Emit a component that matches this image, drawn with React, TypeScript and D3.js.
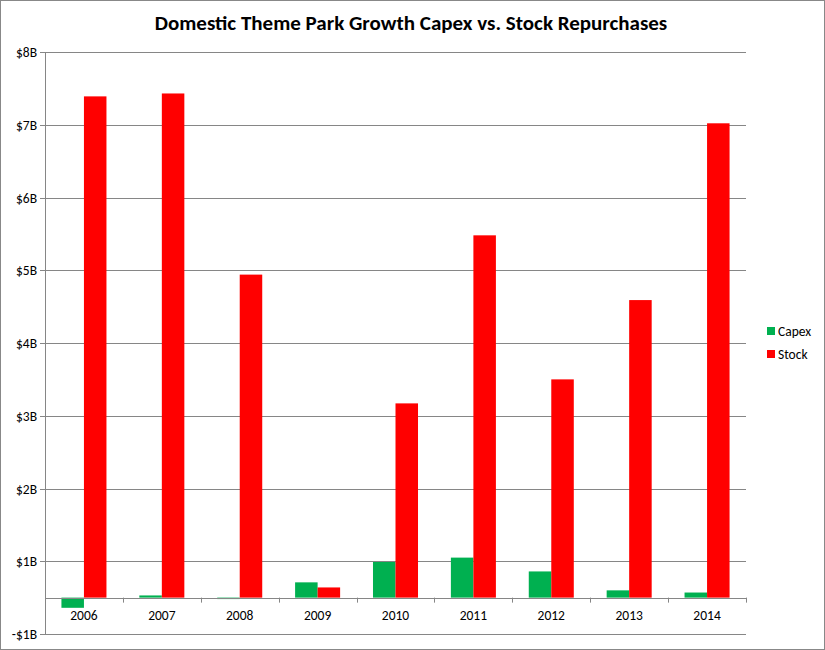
import React from "react";
import * as d3 from "d3";

const years = ["2006", "2007", "2008", "2009", "2010", "2011", "2012", "2013", "2014"];
const capex = [-0.14, 0.03, -0.02, 0.21, 0.49, 0.55, 0.36, 0.1, 0.07];
const stock = [6.89, 6.93, 4.44, 0.14, 2.67, 4.98, 3.0, 4.09, 6.52];
const tickValues = [-0.5, 0.5, 1.5, 2.5, 3.5, 4.5, 5.5, 6.5, 7.5];
const tickLabels = ["-$1B", "$1B", "$2B", "$3B", "$4B", "$5B", "$6B", "$7B", "$8B"];
const seriesNames = ["Capex", "Stock"];
const colors = ["#00B050", "#FF0000"];

export default function App() {
  const W = 825, H = 650;
  const left = 45, right = 746, top = 52, bottom = 634;
  const y = d3.scaleLinear().domain([-0.5, 7.5]).range([bottom, top]);
  const x = d3.scaleBand().domain(years).range([left, right]).paddingInner(0).paddingOuter(0);
  const inner = d3.scaleBand().domain(seriesNames).range([0, x.bandwidth()]).paddingInner(0).paddingOuter(0.73);
  const font = "Calibri, Carlito, Lato, 'Open Sans', 'Liberation Sans', sans-serif";
  const y0 = y(0);
  const series = [capex, stock];
  return (
    <svg width={W} height={H} style={{ position: "absolute", left: 0, top: 0, background: "#fff" }} fontFamily={font}>
      <rect x={0.5} y={0.5} width={W - 1} height={H - 1} fill="#fff" stroke="#888" />
      <text x={411} y={30} textAnchor="middle" fontSize={21} fontWeight="bold" fill="#000">
        Domestic Theme Park Growth Capex vs. Stock Repurchases
      </text>
      {tickValues.map((v, i) => (
        <g key={v}>
          <line x1={left - 5} x2={right} y1={Math.round(y(v)) + 0.5} y2={Math.round(y(v)) + 0.5} stroke="#868686" />
          <text x={37} y={y(v) + 5} textAnchor="end" fontSize={13.5} fill="#000">{tickLabels[i]}</text>
        </g>
      ))}
      <line x1={left + 0.5} x2={left + 0.5} y1={top} y2={bottom} stroke="#868686" />
      {series.map((vals, s) =>
        vals.map((v, i) => {
          const bx = (x(years[i]) as number) + (inner(seriesNames[s]) as number);
          const y1 = y(Math.max(0, v));
          const y2 = y(Math.min(0, v));
          return <rect key={s + "-" + i} x={bx} y={y1} width={inner.bandwidth()} height={y2 - y1} fill={colors[s]} />;
        })
      )}
      <line x1={left} x2={right} y1={Math.round(y0) + 0.5} y2={Math.round(y0) + 0.5} stroke="#868686" />
      {years.concat(["end"]).map((yr, i) => {
        const tx = Math.round(left + i * x.step()) + 0.5;
        return <line key={"t" + i} x1={tx} x2={tx} y1={y0} y2={y0 + 5} stroke="#868686" />;
      })}
      {years.map((yr) => (
        <text key={"l" + yr} x={(x(yr) as number) + x.bandwidth() / 2} y={y0 + 22} textAnchor="middle" fontSize={13.5} fill="#000">{yr}</text>
      ))}
      {seriesNames.map((n, i) => (
        <g key={n} transform={`translate(767, ${327 + i * 23})`}>
          <rect x={0} y={0} width={8} height={8} fill={colors[i]} />
          <text x={11} y={9} fontSize={13.5} fill="#000">{n}</text>
        </g>
      ))}
    </svg>
  );
}
